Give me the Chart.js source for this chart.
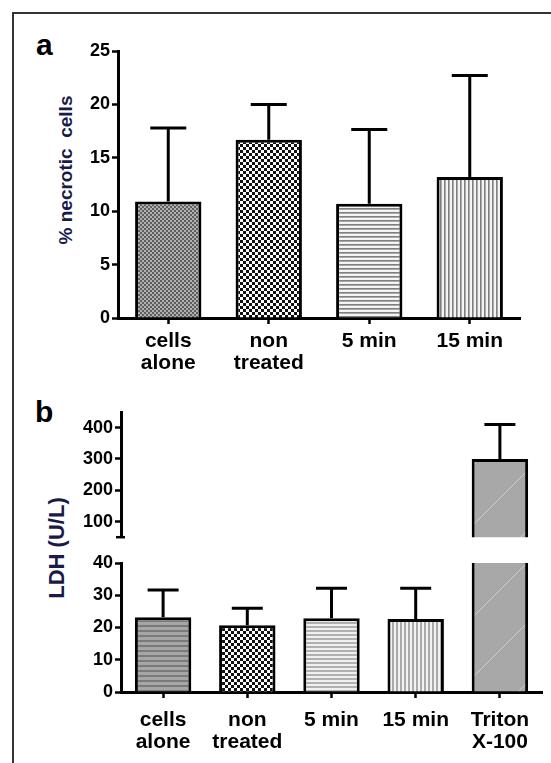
<!DOCTYPE html>
<html><head><meta charset="utf-8">
<script src="https://cdn.jsdelivr.net/npm/chart.js@4.4.1/dist/chart.umd.min.js"></script>
<style>
html,body{margin:0;padding:0;background:#fff;}
#wrap{position:relative;width:551px;height:763px;overflow:hidden;background:#fff;}
#frame{position:absolute;left:12px;top:12px;width:700px;height:900px;border-left:2px solid #333;border-top:2px solid #333;}
canvas{position:absolute;left:0;}
.lbl{position:absolute;font:bold 30px 'Liberation Sans',Arial,sans-serif;color:#000;line-height:30px;}
.ytitle{position:absolute;white-space:pre;font:bold 19px 'Liberation Sans',Arial,sans-serif;color:#1a1a4a;transform:translate(-50%,-50%) rotate(-90deg);line-height:20px;}
</style></head>
<body><div id="wrap"><div id="frame"></div>
<div class="lbl" style="left:36px;top:30px;">a</div>
<div class="lbl" style="left:35px;top:397px;">b</div>
<div class="ytitle" style="left:66px;top:170px;">% necrotic  cells</div>
<div class="ytitle" style="left:57px;top:548px;font-size:22px;">LDH (U/L)</div>
<canvas id="ca" width="551" height="390" style="top:0;"></canvas>
<canvas id="cb1" width="551" height="152" style="top:398px;"></canvas>
<canvas id="cb2" width="551" height="213" style="top:550px;"></canvas>
</div>
<script>
// ---- data ----
const categoriesA = [['cells','alone'],['non','treated'],'5 min','15 min'];
const necroticMean = [10.9, 16.7, 10.7, 13.2];
const necroticSD = [6.9, 3.3, 6.95, 9.5];
const necroticTicks = [0,5,10,15,20,25];

const categoriesB = [['cells','alone'],['non','treated'],'5 min','15 min',['Triton','X-100']];
const ldhMean = [23.2, 20.7, 22.9, 22.6, 300];
const ldhSD = [8.4, 5.3, 9.3, 9.6, 110];
const ldhLowerTicks = [0,10,20,30,40];
const ldhUpperTicks = [100,200,300,400];
const ldhUpperMin = 50, ldhUpperMax = 450, ldhLowerMax = 40;

// ---- styling helpers ----
const TICKFONT = "'Liberation Sans', Arial, sans-serif";
const CATFONT = "'Liberation Sans Narrow','Arial Narrow','Liberation Sans',Arial,sans-serif";

function mkPattern(w,h,draw){
  const c=document.createElement('canvas');c.width=w;c.height=h;
  const g=c.getContext('2d');draw(g,w,h);
  return g.createPattern(c,'repeat');
}
const checkFine = mkPattern(4,4,(g)=>{g.fillStyle='#b0b0b0';g.fillRect(0,0,4,4);g.fillStyle='#5e5e5e';g.fillRect(0,0,2,2);g.fillRect(2,2,2,2);});
const checkCoarse = mkPattern(6,6,(g)=>{g.fillStyle='#fff';g.fillRect(0,0,6,6);g.fillStyle='#111';g.fillRect(0,0,3,3);g.fillRect(3,3,3,3);});
const hLines = mkPattern(1,4,(g)=>{g.fillStyle='#f4f4f4';g.fillRect(0,0,1,4);g.fillStyle='#7f7f7f';g.fillRect(0,0,1,1);g.fillStyle='#aaaaaa';g.fillRect(0,1,1,1);});
const vLines = mkPattern(4,1,(g)=>{g.fillStyle='#f4f4f4';g.fillRect(0,0,4,1);g.fillStyle='#7f7f7f';g.fillRect(0,0,1,1);g.fillStyle='#aaaaaa';g.fillRect(1,0,1,1);});
const hBands = mkPattern(2,5,(g)=>{g.fillStyle='#a6a6a6';g.fillRect(0,0,2,5);g.fillStyle='#7a7a7a';g.fillRect(0,0,2,2);});
const hLinesLight = mkPattern(1,4,(g)=>{g.fillStyle='#f0f0f0';g.fillRect(0,0,1,4);g.fillStyle='#b0b0b0';g.fillRect(0,0,1,2);});
const vLinesLight = mkPattern(4,1,(g)=>{g.fillStyle='#f2f2f2';g.fillRect(0,0,4,1);g.fillStyle='#aaaaaa';g.fillRect(0,0,2,1);});
const triton = mkPattern(60,60,(g)=>{g.fillStyle='#a8a8a8';g.fillRect(0,0,60,60);g.strokeStyle='rgba(230,230,230,0.6)';g.lineWidth=1;g.beginPath();g.moveTo(0,60);g.lineTo(60,0);g.stroke();});

const errorBars = {
  id:'errorBars',
  afterDatasetsDraw(chart, args, opts){
    const {ctx, chartArea} = chart;
    const ds = chart.data.datasets[0];
    const meta = chart.getDatasetMeta(0);
    const ys = chart.scales.y;
    ctx.save();
    ctx.beginPath();
    ctx.rect(chartArea.left, chartArea.top-3, chartArea.width, chartArea.height+3);
    ctx.clip();
    ctx.strokeStyle='#000'; ctx.lineWidth=3; ctx.lineCap='butt';
    ds.data.forEach((m,i)=>{
      if(m==null || ds.errors[i]==null) return;
      const x = meta.data[i].x;
      const y0 = ys.getPixelForValue(m);
      const y1 = ys.getPixelForValue(m + ds.errors[i]);
      ctx.beginPath(); ctx.moveTo(x,y0); ctx.lineTo(x,y1);
      ctx.moveTo(x-opts.cap/2,y1); ctx.lineTo(x+opts.cap/2,y1);
      ctx.stroke();
    });
    ctx.restore();
  }
};
const axisEnd = {
  id:'axisEnd',
  afterDraw(chart, args, opts){
    if(!opts.show) return;
    const {ctx, chartArea} = chart;
    ctx.save(); ctx.strokeStyle='#000'; ctx.lineWidth=2.5;
    ctx.beginPath(); ctx.moveTo(chartArea.left-5, chartArea.bottom); ctx.lineTo(chartArea.left+4, chartArea.bottom); ctx.stroke();
    ctx.restore();
  }
};

function yScale(min,max,tickArr,width){
  return {
    min, max,
    afterBuildTicks(s){ s.ticks = tickArr.map(v=>({value:v})); },
    afterFit(s){ s.width = width; },
    border:{display:true,color:'#000',width:3},
    grid:{display:true,drawOnChartArea:false,drawTicks:true,tickLength:6,tickWidth:2.5,tickColor:'#000'},
    ticks:{color:'#000',font:{family:TICKFONT,size:18,weight:'bold'},padding:2}
  };
}
function xScale(height, show, pad){
  return {
    type:'category', offset:true, display:show,
    afterFit(s){ s.height = height; },
    border:{display:true,color:'#000',width:3},
    grid:{display:true,offset:false,drawOnChartArea:false,drawTicks:true,tickLength:6,tickWidth:2.5,tickColor:'#000'},
    ticks:{color:'#000',font:{family:CATFONT,size:21,weight:'bold',lineHeight:1.05},padding:pad,maxRotation:0,autoSkip:false}
  };
}
const baseOpts = {responsive:false, animation:false, devicePixelRatio:1,
  plugins:{legend:{display:false}, tooltip:{enabled:false}}};

// Panel a
new Chart(document.getElementById('ca'), {
  type:'bar',
  data:{labels:categoriesA, datasets:[{data:necroticMean, errors:necroticSD,
    backgroundColor:[checkFine, checkCoarse, hLines, vLines],
    borderColor:'#000', borderWidth:3, borderSkipped:'bottom',
    categoryPercentage:1, barPercentage:0.66}]},
  options:{...baseOpts,
    layout:{padding:{left:0,right:31,top:51,bottom:0}},
    scales:{x:xScale(72,true,6), y:yScale(0,25,necroticTicks,118)},
    plugins:{...baseOpts.plugins, errorBars:{cap:36}, axisEnd:{show:false}}},
  plugins:[errorBars, axisEnd]
});

// Panel b upper (broken axis segment)
new Chart(document.getElementById('cb1'), {
  type:'bar',
  data:{labels:categoriesB, datasets:[{data:ldhMean.map((v)=> v>ldhLowerMax ? v : null), errors:ldhSD,
    backgroundColor:triton, borderColor:'#000', borderWidth:3, borderSkipped:'bottom', clip:0,
    categoryPercentage:1, barPercentage:0.67}]},
  options:{...baseOpts,
    layout:{padding:{left:0,right:9,top:14,bottom:8}},
    scales:{x:xScale(0,false,0), y:yScale(ldhUpperMin,ldhUpperMax,ldhUpperTicks,121)},
    plugins:{...baseOpts.plugins, errorBars:{cap:31}, axisEnd:{show:true}}},
  plugins:[errorBars, axisEnd]
});

// Panel b lower
new Chart(document.getElementById('cb2'), {
  type:'bar',
  data:{labels:categoriesB, datasets:[{data:ldhMean, errors:ldhSD,
    backgroundColor:[hBands, checkCoarse, hLinesLight, vLinesLight, triton],
    borderColor:'#000', borderWidth:3, borderSkipped:'bottom', clip:0,
    categoryPercentage:1, barPercentage:0.67}]},
  options:{...baseOpts,
    layout:{padding:{left:0,right:9,top:13,bottom:0}},
    scales:{x:xScale(71,true,11), y:yScale(0,ldhLowerMax,ldhLowerTicks,121)},
    plugins:{...baseOpts.plugins, errorBars:{cap:31}, axisEnd:{show:false}}},
  plugins:[errorBars, axisEnd]
});
</script>
</body></html>
